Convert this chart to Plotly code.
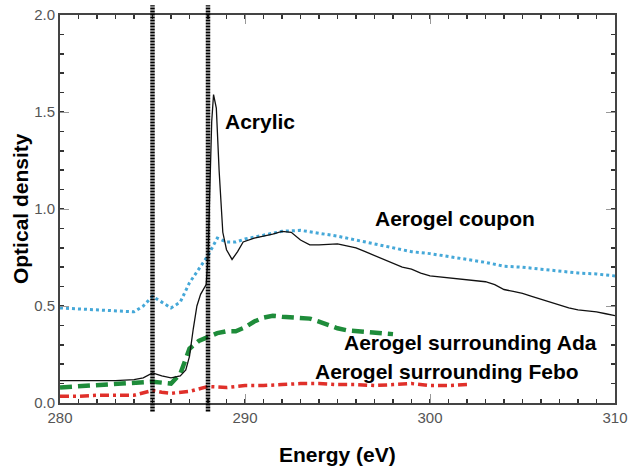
import plotly.graph_objects as go

# ---------------- data ----------------
acrylic_x = [280, 281, 282, 283, 284, 284.5, 285, 285.5, 286, 286.5, 286.8, 287.0, 287.2, 287.4, 287.6,
             287.9, 288.0, 288.1, 288.2, 288.3, 288.45, 288.6, 288.8, 289.0, 289.3, 289.6, 289.9, 290.5,
             291, 291.5, 292, 292.5, 293, 293.5, 294, 294.5, 295, 295.5, 296, 296.5, 297, 297.5, 298,
             298.5, 299, 299.5, 300, 300.5, 301, 301.5, 302, 302.5, 303, 303.5, 304, 304.5, 305, 305.5,
             306, 306.5, 307, 307.5, 308, 308.5, 309, 309.5, 310]
acrylic_y = [0.115, 0.115, 0.115, 0.115, 0.12, 0.13, 0.155, 0.14, 0.13, 0.14, 0.17, 0.24, 0.38, 0.50, 0.56,
             0.61, 0.75, 1.10, 1.45, 1.59, 1.52, 1.20, 0.88, 0.79, 0.74, 0.78, 0.83, 0.85,
             0.86, 0.87, 0.885, 0.88, 0.84, 0.815, 0.815, 0.818, 0.82, 0.81, 0.80, 0.78, 0.76, 0.74, 0.72,
             0.70, 0.69, 0.67, 0.655, 0.65, 0.645, 0.64, 0.635, 0.63, 0.625, 0.61, 0.585, 0.575, 0.565, 0.55,
             0.535, 0.52, 0.505, 0.49, 0.48, 0.475, 0.47, 0.46, 0.45]

coupon_x = [280, 281, 282, 283, 284, 284.5, 285, 285.5, 286, 286.5, 287, 287.5, 288, 288.5, 289, 289.5,
            290, 291, 292, 293, 294, 295, 296, 297, 298, 299, 300, 301, 302, 303, 304, 305, 306, 307,
            308, 309, 310]
coupon_y = [0.49, 0.485, 0.48, 0.475, 0.47, 0.50, 0.55, 0.52, 0.49, 0.52, 0.62, 0.69, 0.76, 0.85, 0.83, 0.83,
            0.845, 0.865, 0.885, 0.89, 0.875, 0.86, 0.84, 0.82, 0.80, 0.78, 0.77, 0.755, 0.74, 0.725, 0.705,
            0.70, 0.69, 0.68, 0.67, 0.665, 0.655]

ada_x = [280, 281, 282, 283, 284, 285, 285.5, 286, 286.5, 287, 287.5, 288, 288.5, 289, 289.5, 290, 290.5,
         291, 291.5, 292, 292.5, 293, 293.5, 294, 294.5, 295, 295.5, 296, 296.5, 297, 297.5, 298]
ada_y = [0.08, 0.085, 0.09, 0.095, 0.10, 0.11, 0.105, 0.10, 0.15, 0.28, 0.32, 0.34, 0.36, 0.37, 0.37, 0.39,
         0.42, 0.44, 0.45, 0.445, 0.44, 0.44, 0.435, 0.42, 0.40, 0.385, 0.375, 0.37, 0.365, 0.36, 0.355, 0.355]

febo_x = [280, 281, 282, 283, 284, 285, 285.5, 286, 287, 288, 289, 290, 291, 292, 293, 294, 295, 296,
          297, 298, 299, 300, 301, 302]
febo_y = [0.035, 0.035, 0.04, 0.04, 0.04, 0.065, 0.055, 0.05, 0.06, 0.085, 0.08, 0.09, 0.09, 0.095, 0.10,
          0.10, 0.095, 0.095, 0.09, 0.095, 0.10, 0.09, 0.09, 0.095]

marker_lines_x = [285.0, 288.0]

labels = ["Acrylic", "Aerogel coupon", "Aerogel surrounding Ada", "Aerogel surrounding Febo"]
label_x = [290.8, 301.35, 302.2, 300.9]
label_y = [1.45, 0.95, 0.31, 0.16]

x_title = "Energy (eV)"
y_title = "Optical density"
x_ticks = [280, 290, 300, 310]
y_ticks = [0.0, 0.5, 1.0, 1.5, 2.0]

# ---------------- figure ----------------
FONT = "Liberation Sans, Arial, Helvetica, sans-serif"
fig = go.Figure()

fig.add_trace(go.Scatter(x=coupon_x, y=coupon_y, mode="lines",
                         line=dict(color="#45a8d8", width=3, dash="dot")))
fig.add_trace(go.Scatter(x=ada_x, y=ada_y, mode="lines",
                         line=dict(color="#1e8c3a", width=4.5, dash="12px,6px")))
fig.add_trace(go.Scatter(x=febo_x, y=febo_y, mode="lines",
                         line=dict(color="#e0302a", width=3.5, dash="9px,4px,3px,4px")))
fig.add_trace(go.Scatter(x=acrylic_x, y=acrylic_y, mode="lines",
                         line=dict(color="#111111", width=1.3)))

for xv in marker_lines_x:
    fig.add_shape(type="line", xref="x", yref="paper", x0=xv, x1=xv, y0=-0.022, y1=1.025,
                  line=dict(color="black", width=4.5, dash="2px,1px"))

for t, xv, yv in zip(labels, label_x, label_y):
    fig.add_annotation(x=xv, y=yv, xref="x", yref="y", text="<b>%s</b>" % t, showarrow=False,
                       font=dict(family=FONT, size=21, color="black"))

# axis titles
fig.add_annotation(x=0.5, y=-0.134, xref="paper", yref="paper", text="<b>%s</b>" % x_title,
                   showarrow=False, xanchor="center", yanchor="middle",
                   font=dict(family=FONT, size=21, color="black"))
fig.add_annotation(x=-0.072, y=0.5, xref="paper", yref="paper", text="<b>%s</b>" % y_title,
                   showarrow=False, xanchor="center", yanchor="middle", textangle=-90,
                   font=dict(family=FONT, size=21, color="black"))

axis_common = dict(
    showline=True, linecolor="#444", linewidth=2, mirror="allticks",
    ticks="inside", ticklen=9, tickcolor="#999", tickwidth=1,
    showgrid=False, zeroline=False, automargin=False, ticklabeloverflow="allow",
    tickfont=dict(family=FONT, size=15, color="#555"),
)

fig.update_xaxes(range=[280, 310], tickvals=x_ticks,
                 minor=dict(dtick=1, ticks="inside", ticklen=4, tickcolor="#333", tickwidth=1.5),
                 **axis_common)
fig.update_yaxes(range=[0, 2.0], tickvals=y_ticks, tickformat=".1f",
                 minor=dict(dtick=0.1, ticks="inside", ticklen=4, tickcolor="#333", tickwidth=1.5),
                 **axis_common)

fig.update_layout(
    width=629, height=469,
    margin=dict(l=60, r=14, t=15, b=66),
    paper_bgcolor="white", plot_bgcolor="white",
    showlegend=False, hovermode=False,
    font=dict(family=FONT),
)

# remove the default page margin so the figure fills the window exactly
fig.write_html("out.html", config={"displayModeBar": False, "staticPlot": True},
               post_script="document.body.style.margin='0';document.body.style.overflow='hidden';")
